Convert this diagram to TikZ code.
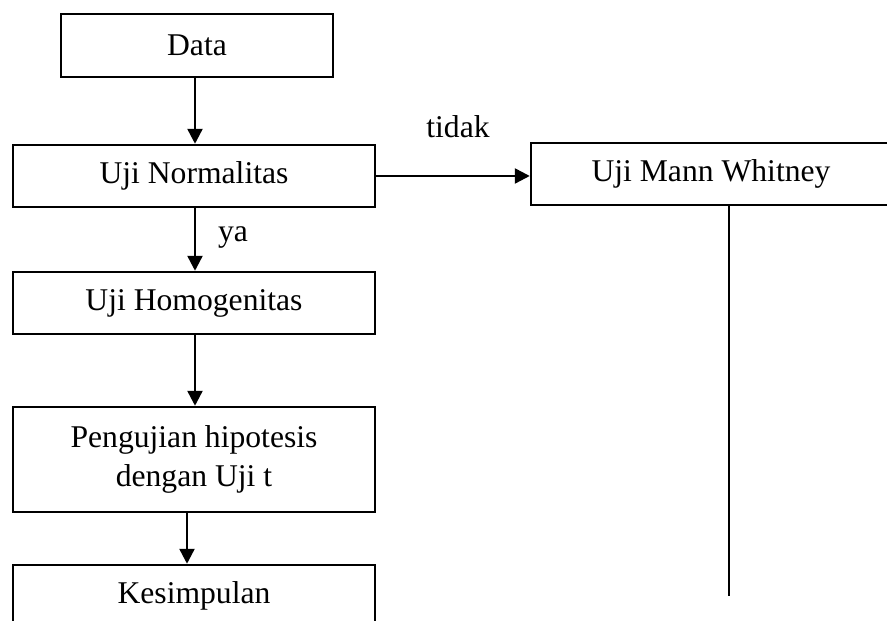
\documentclass[tikz,border=0pt]{standalone}
\usepackage{fontspec}
\setmainfont{Liberation Serif}
\usetikzlibrary{arrows.meta}

\tikzset{
  box/.style={draw, line width=1.4pt, minimum height=1.24cm, align=center, inner sep=0pt},
  flow/.style={line width=1.4pt, -{Triangle[length=0.3cm,width=0.3cm]}},
  line/.style={line width=1.4pt},
}

\begin{document}
\begin{tikzpicture}[font=\fontsize{18}{22.2}\selectfont]
\useasboundingbox (0,0) rectangle (17.74,12.42);
\clip (0,0) rectangle (17.74,12.42);

% Boxes
\node[box, minimum width=5.44cm, minimum height=1.26cm] (data) at (3.94,11.51) {Data};
\node[box, minimum width=7.24cm] (normal) at (3.88,8.90) {Uji Normalitas};
\node[box, minimum width=7.20cm] (mann) at (14.22,8.94) {Uji Mann Whitney};
\node[box, minimum width=7.24cm] (homogen) at (3.88,6.36) {Uji Homogenitas};
\node[box, minimum width=7.24cm, minimum height=2.10cm] (ujit) at (3.88,3.23) {Pengujian hipotesis\\dengan Uji t};
\node[box, minimum width=7.24cm] (simpul) at (3.88,0.50) {Kesimpulan};

% Labels
\node (tidak) at (9.16,9.88) {tidak};
\node (ya) at (4.66,7.66) {ya};

% Connectors
\draw[flow] ([xshift=-0.04cm]data.south) -- ([xshift=-0.04cm]data.south |- normal.north);
\draw[flow] ([xshift=0.02cm]normal.south) -- ([xshift=0.02cm]normal.south |- homogen.north);
\draw[flow] ([xshift=0.02cm]homogen.south) -- ([xshift=0.02cm]homogen.south |- ujit.north);
\draw[flow] ([xshift=-0.14cm]ujit.south) -- ([xshift=-0.14cm]simpul.north);
\draw[flow] (normal.east) -- (normal.east -| mann.west);

\coordinate (mannend) at (14.58,0.50);
\draw[line] (mann.south -| mannend) -- (mannend);

\end{tikzpicture}
\end{document}
